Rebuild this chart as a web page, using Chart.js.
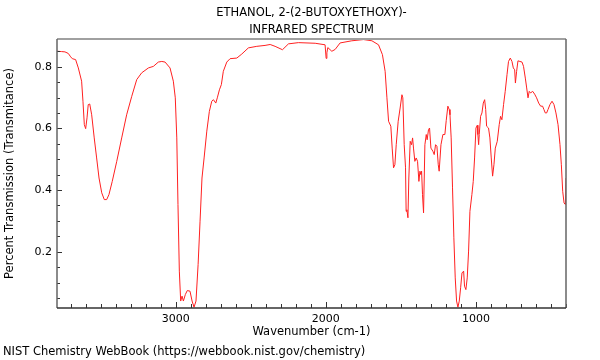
<!DOCTYPE html>
<html>
<head>
<meta charset="utf-8">
<title>IR spectrum</title>
<script src="https://cdn.jsdelivr.net/npm/chart.js@4.4.1/dist/chart.umd.min.js"></script>
<style>
  html, body { margin: 0; padding: 0; background: #fff; }
  #wrap { width: 600px; height: 360px; }
</style>
</head>
<body>
<div id="wrap"><canvas id="irChart" width="600" height="360"></canvas></div>
<script>
// --- 1. Data ---
const wavenumbers = [
  3791, 3760, 3738, 3716, 3700, 3689, 3667, 3649, 3627, 3618, 3609, 3600, 3591, 3583, 3573, 3560,
  3543, 3527, 3511, 3493, 3476, 3460, 3445, 3423, 3393, 3360, 3327, 3293, 3260, 3227, 3182, 3149,
  3116, 3093, 3071, 3038, 3016, 3003, 2993, 2985, 2976, 2967, 2958, 2949, 2936, 2923, 2905, 2891,
  2878, 2865, 2851, 2838, 2825, 2811, 2793, 2776, 2760, 2749, 2733, 2723, 2709, 2696, 2683, 2660,
  2638, 2593, 2560, 2516, 2460, 2405, 2371, 2338, 2289, 2249, 2183, 2071, 2005, 1998, 1993, 1987,
  1960, 1938, 1905, 1827, 1749, 1693, 1649, 1623, 1605, 1593, 1582, 1567, 1558, 1549, 1540, 1531,
  1518, 1505, 1493, 1487, 1478, 1469, 1465, 1460, 1453, 1447, 1438, 1429, 1422, 1416, 1407, 1398,
  1389, 1380, 1373, 1367, 1362, 1356, 1349, 1340, 1331, 1325, 1316, 1309, 1300, 1287, 1278, 1269,
  1260, 1251, 1245, 1233, 1220, 1207, 1198, 1187, 1178, 1173, 1165, 1156, 1147, 1138, 1129, 1120,
  1111, 1102, 1093, 1082, 1076, 1067, 1058, 1049, 1040, 1027, 1018, 1009, 1000, 991, 987, 982,
  978, 969, 960, 951, 942, 935, 929, 916, 907, 898, 889, 880, 871, 858, 845, 836,
  827, 816, 805, 793, 783, 771, 760, 751, 742, 737, 729, 720, 707, 693, 683, 671,
  662, 653, 645, 636, 622, 609, 596, 582, 569, 556, 547, 538, 529, 520, 507, 493,
  480, 467, 453, 440, 431, 422, 413, 404, 400
];
const transmittance = [
  0.850, 0.849, 0.848, 0.843, 0.832, 0.826, 0.823, 0.796, 0.753, 0.688, 0.612, 0.599, 0.634, 0.677, 0.679, 0.644,
  0.569, 0.504, 0.439, 0.391, 0.369, 0.369, 0.385, 0.428, 0.493, 0.569, 0.644, 0.704, 0.758, 0.780, 0.796, 0.801,
  0.815, 0.817, 0.815, 0.796, 0.753, 0.699, 0.569, 0.353, 0.137, 0.040, 0.056, 0.040, 0.061, 0.074, 0.072, 0.040,
  0.020, 0.040, 0.158, 0.299, 0.439, 0.504, 0.591, 0.655, 0.688, 0.693, 0.682, 0.699, 0.725, 0.742, 0.785, 0.815,
  0.826, 0.828, 0.841, 0.861, 0.866, 0.869, 0.872, 0.866, 0.855, 0.874, 0.878, 0.876, 0.871, 0.827, 0.845, 0.862,
  0.850, 0.856, 0.877, 0.884, 0.888, 0.884, 0.871, 0.839, 0.785, 0.699, 0.623, 0.607, 0.536, 0.472, 0.482, 0.547,
  0.623, 0.666, 0.709, 0.699, 0.547, 0.472, 0.331, 0.336, 0.310, 0.439, 0.558, 0.547, 0.569, 0.536, 0.493, 0.504,
  0.493, 0.428, 0.461, 0.450, 0.461, 0.385, 0.326, 0.547, 0.580, 0.563, 0.596, 0.601, 0.536, 0.526, 0.515, 0.547,
  0.542, 0.482, 0.461, 0.547, 0.580, 0.580, 0.625, 0.672, 0.661, 0.644, 0.569, 0.407, 0.245, 0.115, 0.040, 0.020,
  0.040, 0.083, 0.131, 0.137, 0.088, 0.077, 0.115, 0.202, 0.331, 0.385, 0.428, 0.504, 0.601, 0.610, 0.580, 0.547,
  0.580, 0.639, 0.650, 0.682, 0.693, 0.661, 0.607, 0.601, 0.569, 0.504, 0.445, 0.482, 0.536, 0.558, 0.612, 0.639,
  0.628, 0.677, 0.720, 0.774, 0.817, 0.828, 0.817, 0.796, 0.790, 0.747, 0.785, 0.819, 0.817, 0.815, 0.801, 0.763,
  0.731, 0.699, 0.720, 0.715, 0.720, 0.711, 0.699, 0.682, 0.672, 0.672, 0.661, 0.650, 0.650, 0.661, 0.677, 0.688,
  0.677, 0.650, 0.612, 0.547, 0.482, 0.396, 0.358, 0.353, 0.439
];
const xMajorTicks = [1000, 2000, 3000];
const yMajorTicks = [0.2, 0.4, 0.6, 0.8];
const xMinorStep = 100;
const yMinorStep = 0.05;
const titleLines = ['ETHANOL, 2-(2-BUTOXYETHOXY)-', 'INFRARED SPECTRUM'];
const xTitle = 'Wavenumber (cm-1)';
const yTitle = 'Percent Transmission (Transmitance)';
const footerText = 'NIST Chemistry WebBook (https://webbook.nist.gov/chemistry)';

const FONT = 'DejaVu Sans';
const isMajor = (list, v) => list.some(m => Math.abs(m - v) < 1e-6);

// tick positions on round steps inside the axis range
function stepTicks(scale, step) {
  const out = [];
  const first = Math.ceil(scale.min / step - 1e-9);
  const last = Math.floor(scale.max / step + 1e-9);
  for (let k = first; k <= last; k++) {
    out.push({ value: Math.round(k * step * 1000) / 1000 });
  }
  if (scale.options.reverse) out.reverse();
  scale.ticks = out;
}

// --- 2. Inner tick marks + plot frame ---
const frameAndTicks = {
  id: 'frameAndTicks',
  afterDraw(chart) {
    const { ctx, chartArea: a, scales: { x, y } } = chart;
    ctx.save();
    ctx.strokeStyle = '#333';
    ctx.lineWidth = 1;
    x.ticks.forEach(t => {
      const px = Math.round(x.getPixelForValue(t.value)) + 0.5;
      const len = isMajor(xMajorTicks, t.value) ? 6 : 4;
      ctx.beginPath();
      ctx.moveTo(px, a.bottom);
      ctx.lineTo(px, a.bottom - len);
      ctx.stroke();
    });
    y.ticks.forEach(t => {
      const py = Math.round(y.getPixelForValue(t.value)) + 0.5;
      const len = isMajor(yMajorTicks, t.value) ? 5 : 3;
      ctx.beginPath();
      ctx.moveTo(a.left, py);
      ctx.lineTo(a.left + len, py);
      ctx.stroke();
    });

    // frame: light grey top, darker sides and bottom
    ctx.strokeStyle = '#a0a0a0';
    ctx.lineWidth = 2;
    ctx.beginPath();
    ctx.moveTo(a.left, a.top);
    ctx.lineTo(a.right, a.top);
    ctx.stroke();
    ctx.strokeStyle = '#666';
    ctx.lineWidth = 1.5;
    ctx.beginPath();
    ctx.moveTo(a.left, a.top);
    ctx.lineTo(a.left, a.bottom);
    ctx.moveTo(a.right, a.top);
    ctx.lineTo(a.right, a.bottom);
    ctx.stroke();
    ctx.strokeStyle = '#333';
    ctx.beginPath();
    ctx.moveTo(a.left, a.bottom);
    ctx.lineTo(a.right, a.bottom);
    ctx.stroke();
    ctx.restore();
  }
};

// --- 3. Chart ---
const points = wavenumbers.map((w, i) => ({ x: w, y: transmittance[i] }));

new Chart(document.getElementById('irChart'), {
  type: 'line',
  data: {
    datasets: [{
      data: points,
      borderColor: '#ff2020',
      borderWidth: 1,
      pointRadius: 0,
      tension: 0,
      fill: false
    }]
  },
  options: {
    responsive: false,
    animation: false,
    events: [],
    layout: { padding: { left: 3, right: 34, top: 0, bottom: 0 } },
    plugins: {
      legend: { display: false },
      tooltip: { enabled: false },
      title: {
        display: true,
        fullSize: false,
        text: titleLines,
        color: '#000',
        font: { family: FONT, size: 11.5, weight: 'normal', lineHeight: '17px' },
        padding: { top: 4.5, bottom: 0.5 }
      },
      subtitle: {
        display: true,
        position: 'bottom',
        align: 'start',
        text: footerText,
        color: '#000',
        font: { family: FONT, size: 11.5, weight: 'normal', lineHeight: '14px' },
        padding: { top: 1, bottom: 1 }
      }
    },
    scales: {
      x: {
        type: 'linear',
        reverse: true,
        min: 400,
        max: 3791,
        grid: { display: false, drawTicks: false },
        border: { display: false },
        afterBuildTicks: s => stepTicks(s, xMinorStep),
        ticks: {
          autoSkip: false,
          maxRotation: 0,
          minRotation: 0,
          padding: 5,
          color: '#000',
          font: { family: FONT, size: 11 },
          callback: v => isMajor(xMajorTicks, v) ? String(Math.round(v)) : ''
        },
        title: {
          display: true,
          text: xTitle,
          color: '#000',
          font: { family: FONT, size: 11.5, lineHeight: '14px' },
          padding: { top: 0, bottom: 5 }
        },
        afterFit: s => { s.height = 36; }
      },
      y: {
        type: 'linear',
        min: 0.0174,
        max: 0.8898,
        grid: { display: false, drawTicks: false },
        border: { display: false },
        afterBuildTicks: s => stepTicks(s, yMinorStep),
        ticks: {
          autoSkip: false,
          padding: 5,
          color: '#000',
          font: { family: FONT, size: 11 },
          callback: v => isMajor(yMajorTicks, v) ? v.toFixed(1) : ''
        },
        title: {
          display: true,
          text: yTitle,
          color: '#000',
          font: { family: FONT, size: 11.5, lineHeight: '14px' },
          padding: { top: 0, bottom: 0 }
        },
        afterFit: s => { s.width = 54; }
      }
    }
  },
  plugins: [frameAndTicks]
});
</script>
</body>
</html>
